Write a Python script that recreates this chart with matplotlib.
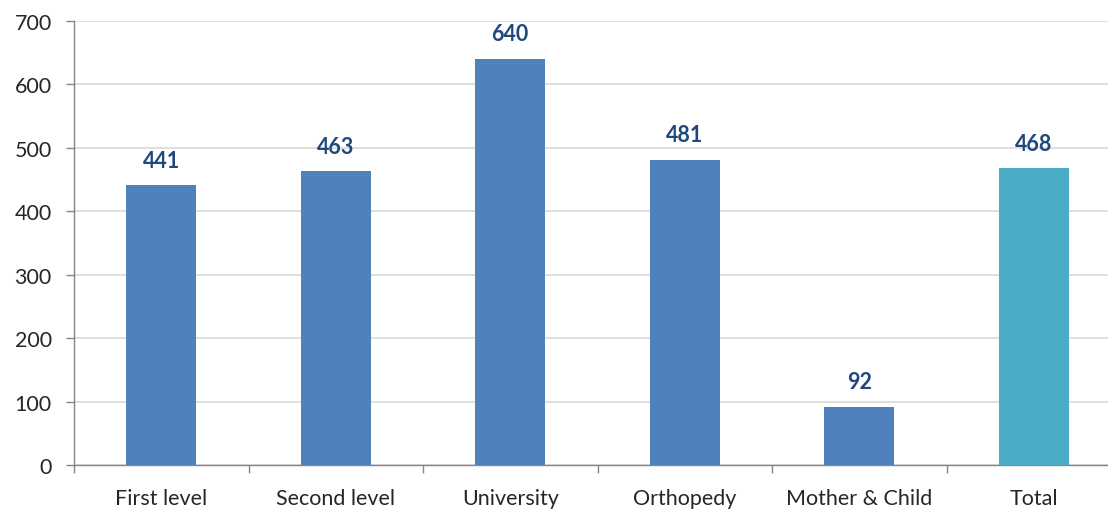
import matplotlib
matplotlib.use("Agg")
import matplotlib.pyplot as plt
import numpy as np

categories = ["First level", "Second level", "University", "Orthopedy", "Mother & Child", "Total"]
values = [441, 463, 640, 481, 92, 468]
bar_colors = ["#4F81BD"] * 5 + ["#4BACC6"]
y_ticks = [0, 100, 200, 300, 400, 500, 600, 700]

plt.rcParams["font.family"] = ["Lato", "DejaVu Sans"]

W, H = 1108, 510
fig = plt.figure(figsize=(W / 100, H / 100), dpi=100)
# category spacing is 174.5 px, the plot runs past the right edge
left, bottom, top = 74, 466, 22
ax = fig.add_axes([left / W, (H - bottom) / H, 6 * 174.5 / W, (bottom - top) / H])

x = np.arange(len(categories))
bars = ax.bar(x, values, width=0.4, color=bar_colors, zorder=3)

for xi, v in zip(x, values):
    ax.annotate(
        f"{v}",
        (xi, v),
        xytext=(0, 10.5),
        textcoords="offset points",
        ha="center",
        va="bottom",
        fontsize=15.5,
        fontweight="bold",
        color="#1F497D",
    )

ax.set_xlim(-0.5, len(categories) - 0.5)
ax.set_ylim(0, 700)
ax.set_yticks(y_ticks)
ax.yaxis.grid(True, color="#D9D9D9", linewidth=1.2, zorder=0)

# x ticks sit between categories, labels centred under bars
ax.set_xticks(np.arange(-0.5, len(categories), 1.0))
ax.set_xticklabels([])
ax.set_xticks(x, minor=True)
ax.set_xticklabels(categories, minor=True)
ax.tick_params(axis="x", which="minor", length=0, pad=16.5, labelsize=15.5, labelcolor="#262626")
ax.tick_params(axis="x", which="major", length=6, color="#868686", width=1)
ax.tick_params(axis="y", length=6, color="#868686", width=1, pad=10, labelsize=15.5, labelcolor="#262626")

for side in ["top", "right"]:
    ax.spines[side].set_visible(False)
for side in ["left", "bottom"]:
    ax.spines[side].set_color("#868686")
    ax.spines[side].set_linewidth(1)

fig.savefig("out.png", dpi=100)
